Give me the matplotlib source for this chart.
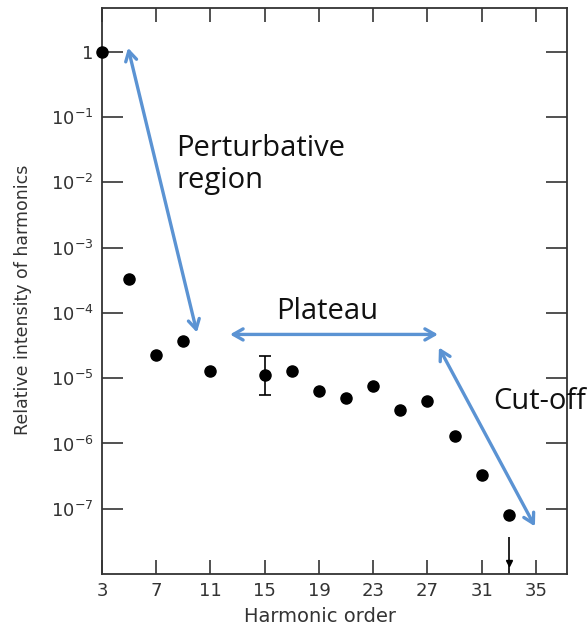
# Harmonic generation spectrum: relative intensity vs harmonic order
import numpy as np
import matplotlib.pyplot as plt

# data
orders = [3, 5, 7, 9, 11, 15, 17, 19, 21, 23, 25, 27, 29, 31, 33]
intensity = [1.0, 3.3e-4, 2.3e-5, 3.7e-5, 1.3e-5, 1.1e-5, 1.3e-5, 6.4e-6,
             4.9e-6, 7.7e-6, 3.2e-6, 4.4e-6, 1.3e-6, 3.3e-7, 8.1e-8]
err_order = 15
err_low, err_high = 5.6e-6, 2.2e-5
limit_order = 33
limit_top = 3.7e-8

xticks = [3, 7, 11, 15, 19, 23, 27, 31, 35]
yticks = [1, 1e-1, 1e-2, 1e-3, 1e-4, 1e-5, 1e-6, 1e-7]
ytick_labels = ["1"] + [r"10$^{-%d}$" % k for k in range(1, 8)]

blue = "#5b93d3"
grey = "#333333"

fig = plt.figure(figsize=(5.87, 6.31), dpi=100)
ax = fig.add_axes([0.1738, 0.0903, 0.7922, 0.897])

ax.set_yscale("log")
ax.set_xlim(3, 37.3)
ax.set_ylim(1e-8, 10 ** 0.67)

# measured points
ax.plot(orders, intensity, "o", color="black", markersize=8, clip_on=False, zorder=5)

# error bar on harmonic 15
y15 = intensity[orders.index(err_order)]
ax.errorbar([err_order], [y15], yerr=[[y15 - err_low], [err_high - y15]],
            fmt="none", ecolor="black", elinewidth=1.2, capsize=4, capthick=1.2)

# upper limit on harmonic 33
ax.vlines(limit_order, 1e-8, limit_top, color="black", linewidth=1.2)
ax.plot([limit_order], [10 ** -7.83], "v", color="black", markersize=5)

# ticks
ax.set_xticks(xticks)
ax.set_yticks(yticks)
ax.set_yticklabels(ytick_labels)
ax.minorticks_off()
ax.tick_params(axis="x", direction="in", length=10, width=1.2, top=True,
               labelsize=13, colors=grey, pad=6)
ax.tick_params(axis="y", direction="in", length=15, width=1.2, right=True,
               labelsize=13, colors=grey, pad=6)
for s in ax.spines.values():
    s.set_linewidth(1.3)
    s.set_color(grey)

ax.set_xlabel("Harmonic order", fontsize=14, color=grey)
ax.set_ylabel("Relative intensity of harmonics", fontsize=12.5, color=grey)
ax.xaxis.set_label_coords(0.469, -0.058)
ax.yaxis.set_label_coords(-0.15, 0.484)

# annotation arrows
arrow = dict(arrowstyle="<->,head_length=0.7,head_width=0.4", color=blue, lw=2.4,
             shrinkA=0, shrinkB=0)
ax.annotate("", xy=(4.92, 10 ** 0.06), xytext=(10.0, 10 ** -4.3), arrowprops=arrow)
ax.annotate("", xy=(12.44, 10 ** -4.33), xytext=(27.78, 10 ** -4.33), arrowprops=arrow)
ax.annotate("", xy=(27.85, 10 ** -4.53), xytext=(34.93, 10 ** -7.27), arrowprops=arrow)

txt = dict(fontsize=21, color="#111111", family=["Open Sans", "DejaVu Sans"])
ax.text(8.46, 10 ** -1.72, "Perturbative\nregion", va="center", ha="left",
        linespacing=1.14, **txt)
ax.text(15.83, 10 ** -3.98, "Plateau", va="center", ha="left", **txt)
ax.text(31.83, 10 ** -5.36, "Cut-off", va="center", ha="left", clip_on=False, **txt)

fig.savefig("out.png", dpi=100)
